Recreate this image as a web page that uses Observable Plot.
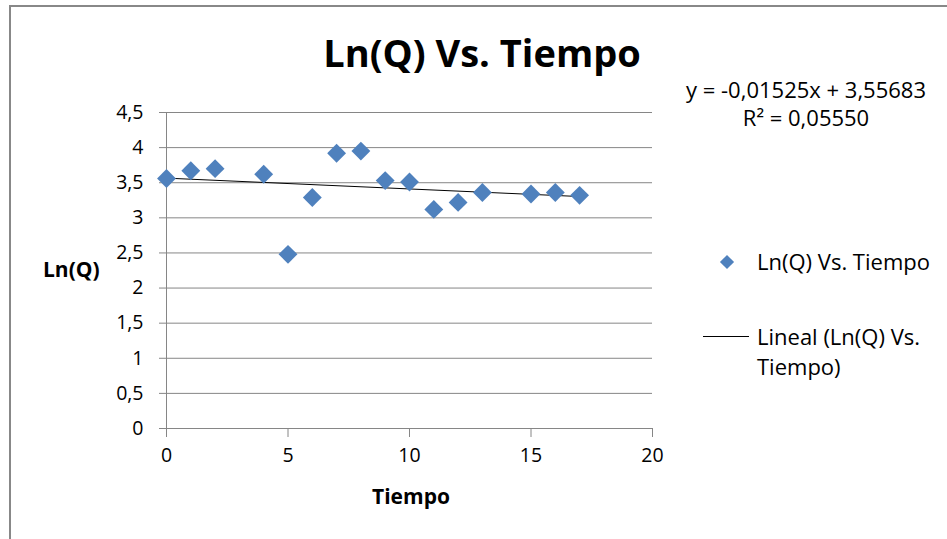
<!DOCTYPE html>
<html>
<head>
<meta charset="utf-8">
<script src="https://cdn.jsdelivr.net/npm/d3@7"></script>
<script src="https://cdn.jsdelivr.net/npm/@observablehq/plot@0.6"></script>
<style>
  html, body { margin: 0; padding: 0; background: #fff; }
  #wrap { position: relative; width: 947px; height: 539px; overflow: hidden; font-family: "Open Sans", Lato, sans-serif; color: #000; }
  #wrap svg { position: absolute; left: 0; top: 0; }
  .abs { position: absolute; white-space: nowrap; line-height: 1; }
  .border-top { position: absolute; left: 9px; top: 5px; width: 938px; height: 2px; background: #888; }
  .border-left { position: absolute; left: 9px; top: 5px; width: 2px; height: 534px; background: #888; }
</style>
</head>
<body>
<div id="wrap">
  <div class="border-top"></div>
  <div class="border-left"></div>
</div>
<script>
const tiempo = [0, 1, 2, 4, 5, 6, 7, 8, 9, 10, 11, 12, 13, 15, 16, 17];
const lnQ = [3.56, 3.67, 3.70, 3.62, 2.48, 3.29, 3.92, 3.95, 3.53, 3.51, 3.12, 3.22, 3.36, 3.34, 3.36, 3.32];
const xTicks = [0, 5, 10, 15, 20];
const yTicks = [0, 0.5, 1, 1.5, 2, 2.5, 3, 3.5, 4, 4.5];
const titleText = "Ln(Q) Vs. Tiempo";
const xLabel = "Tiempo";
const yLabel = "Ln(Q)";
const equationText = "y = -0,01525x + 3,55683";
const r2Text = "R² = 0,05550";
const legendSeries = "Ln(Q) Vs. Tiempo";
const legendTrend = ["Lineal (Ln(Q) Vs.", "Tiempo)"];

const data = tiempo.map((t, i) => ({t, v: lnQ[i]}));
const fmt = d => String(d).replace(".", ",");
const grey = "#868686";
const blue = "#4F81BD";
const font = "'Open Sans', Lato, sans-serif";

const chart = Plot.plot({
  width: 947,
  height: 539,
  marginLeft: 166,
  marginRight: 295,
  marginTop: 112,
  marginBottom: 111,
  style: {fontFamily: font, fontSize: "19px", background: "transparent", color: "#000"},
  x: {domain: [0, 20]},
  y: {domain: [0, 4.5]},
  marks: [
    Plot.gridY(yTicks, {stroke: grey, strokeOpacity: 1, strokeWidth: 1}),
    Plot.ruleX([0], {stroke: grey, strokeWidth: 1}),
    Plot.ruleY([0], {stroke: grey, strokeWidth: 1}),
    Plot.axisY({ticks: yTicks, tickSize: 7, tickPadding: 16, tickFormat: fmt, stroke: grey, label: null, fontSize: 19.5}),
    Plot.axisX({ticks: xTicks, tickSize: 9, tickPadding: 11, tickFormat: fmt, stroke: grey, label: null, fontSize: 19.5}),
    Plot.linearRegressionY(data, {x: "t", y: "v", stroke: "#000", strokeWidth: 1, ci: 0}),
    Plot.dot(data, {x: "t", y: "v", symbol: "diamond2", r: 8.5, fill: blue, stroke: "none"})
  ]
});

const wrap = document.getElementById("wrap");
wrap.appendChild(chart);

function addText(txt, left, top, style) {
  const d = document.createElement("div");
  d.className = "abs";
  d.textContent = txt;
  d.style.left = left + "px";
  d.style.top = top + "px";
  Object.assign(d.style, style || {});
  wrap.appendChild(d);
  return d;
}

addText(titleText, 482, 33, {fontSize: "38px", fontWeight: "bold", transform: "translateX(-50%)"});
addText(yLabel, 43, 259, {fontSize: "21px", fontWeight: "bold"});
addText(xLabel, 411, 486, {fontSize: "21px", fontWeight: "bold", transform: "translateX(-50%)"});
addText(equationText, 806, 78, {fontSize: "22px", transform: "translateX(-50%)"});
addText(r2Text, 806, 106, {fontSize: "22px", transform: "translateX(-50%)"});
const dia = document.createElement("div");
Object.assign(dia.style, {position: "absolute", left: "722px", top: "257px", width: "10px", height: "10px", background: blue, transform: "rotate(45deg)"});
wrap.appendChild(dia);
addText(legendSeries, 757, 250, {fontSize: "22px"});
const ln = document.createElement("div");
Object.assign(ln.style, {position: "absolute", left: "703px", top: "336px", width: "46px", height: "1px", background: "#000"});
wrap.appendChild(ln);
addText(legendTrend[0], 757, 325, {fontSize: "22px"});
addText(legendTrend[1], 757, 355, {fontSize: "22px"});
</script>
</body>
</html>
